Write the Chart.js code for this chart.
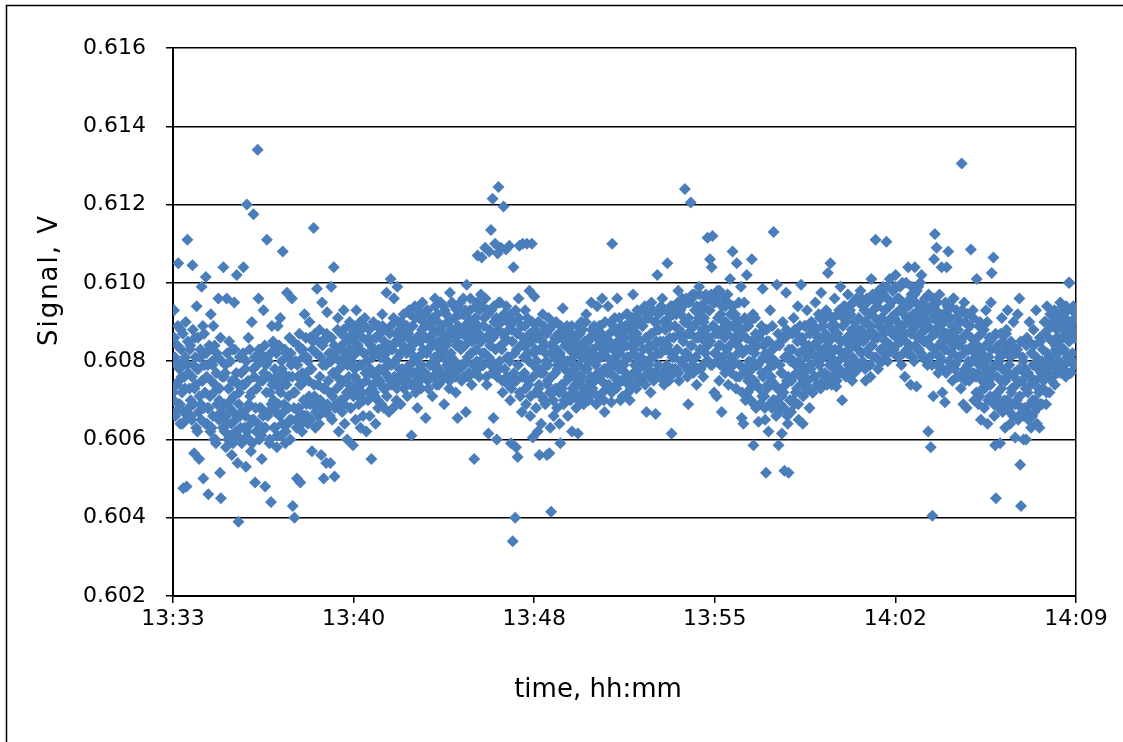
<!DOCTYPE html>
<html>
<head>
<meta charset="utf-8">
<script src="https://cdn.jsdelivr.net/npm/chart.js@4.4.1/dist/chart.umd.min.js"></script>
<style>
html,body{margin:0;padding:0;background:#fff;}
#wrap{width:1123px;height:742px;position:relative;}
</style>
</head>
<body>
<div id="wrap"><canvas id="c" width="1123" height="742"></canvas></div>
<script>
// x axis: seconds since midnight (13:33:36 .. 14:09:36), ticks every 7.2 min
const xTickValues = [48816, 49248, 49680, 50112, 50544, 50976];
const xTickLabels = ['13:33', '13:40', '13:48', '13:55', '14:02', '14:09'];
const yTickValues = [0.602, 0.604, 0.606, 0.608, 0.610, 0.612, 0.614, 0.616];
const yTickLabels = ['0.602', '0.604', '0.606', '0.608', '0.610', '0.612', '0.614', '0.616'];
const xTitle = 'time, hh:mm';
const yTitle = 'Signal, V';

// recording start and sample interval (seconds)
const startTime = 48816;
const sampleInterval = 1;

// signal readings in mV, one block per 4 minutes;
// "signalBlock" = even-second samples, "coreBlock" = odd-second samples
const signalBlock1 = [
 607.2,609.3,608.1,606.7,607.9,608.4,610.5,607.5,606.9,608.8,607.6,606.4,604.75,608.0,607.3,609.0,604.8,611.1,607.7,606.6,
 608.3,607.0,606.5,610.45,607.9,605.65,608.6,607.4,609.4,606.2,607.8,605.5,608.1,606.9,609.9,607.5,605.0,608.7,607.2,610.15,
 607.6,606.8,604.6,608.4,607.1,609.2,606.3,607.9,608.9,606.0,607.4,605.9,608.2,606.6,609.6,607.0,605.15,604.5,608.0,606.5,
 610.4,606.9,607.7,605.8,609.6,606.4,607.3,608.5,606.1,607.0,605.6,608.3,606.7,609.5,607.5,606.2,610.2,605.4,603.9,607.2,
 606.6,608.1,605.9,607.4,610.4,606.3,607.8,605.3,612.0,606.8,608.6,606.0,607.1,605.7,609.0,606.5,611.75,607.6,604.9,606.2,
 607.3,613.4,609.6,606.0,608.2,606.8,605.5,607.5,609.3,606.3,604.8,607.9,611.1,606.6,608.0,605.9,607.2,604.4,608.9,606.9
];
const coreBlock1 = [
 607.0,608.6,606.6,608.0,607.4,608.9,606.9,607.8,606.4,608.3,607.2,608.7,606.7,607.6,608.1,606.5,607.9,608.5,606.8,607.3,
 608.4,606.6,607.6,608.8,606.9,607.3,608.1,606.3,607.8,608.6,606.7,607.1,608.3,606.5,607.5,608.9,606.8,607.9,606.4,608.2,
 606.4,607.9,606.8,608.3,606.2,607.5,608.0,606.6,607.2,608.4,606.0,607.7,606.9,608.1,606.5,607.3,608.6,606.7,607.6,606.3,
 607.6,606.2,607.9,606.6,608.2,606.0,607.3,606.8,608.0,606.4,607.5,605.9,607.1,608.3,606.5,607.7,606.1,607.4,606.9,608.1,
 606.3,607.7,606.7,608.2,606.0,607.4,606.6,608.0,606.2,607.5,606.9,608.3,606.4,607.2,605.9,607.8,606.5,608.1,606.8,607.3,
 607.9,606.4,608.3,606.8,607.5,606.1,608.0,606.6,607.7,608.4,606.3,607.2,608.1,606.7,607.6,606.0,608.2,606.9,607.4,608.5
];
const signalBlock2 = [
 607.0,608.4,606.3,607.6,605.8,608.9,606.9,607.3,609.1,606.1,607.8,610.8,606.7,607.5,605.9,608.2,609.75,606.4,607.1,608.6,
 606.0,607.9,609.6,604.3,607.2,604.0,608.0,606.5,605.0,607.6,606.8,608.7,604.9,607.4,606.2,608.3,607.0,609.2,606.6,607.7,
 608.1,606.4,607.5,609.0,606.9,607.8,605.7,608.5,611.4,607.1,606.3,608.2,609.85,607.4,606.6,608.8,607.0,605.6,609.5,607.9,
 605.0,607.3,608.6,605.4,609.25,606.8,608.0,607.2,605.4,609.9,606.5,607.7,610.4,605.05,608.3,606.9,607.6,609.1,606.2,608.0,
 607.4,608.7,606.7,607.9,609.3,606.4,608.2,607.1,606.0,608.5,607.6,609.0,606.8,608.1,607.3,605.85,608.9,607.8,606.5,609.3,
 607.5,608.4,606.9,607.9,606.3,608.8,607.2,606.6,608.2,609.1,607.7,606.2,608.0,607.0,608.6,606.6,607.8,605.5,608.3,607.4
];
const coreBlock2 = [
 606.3,607.8,606.7,608.2,606.1,607.5,608.4,606.6,607.2,608.0,606.4,607.7,606.9,608.3,606.2,607.4,608.1,606.8,607.6,606.5,
 608.2,606.5,607.6,608.5,606.8,607.2,608.0,606.3,607.9,608.4,606.7,607.4,608.3,606.4,607.7,608.1,606.6,607.5,608.6,606.9,
 606.6,608.0,607.1,608.6,606.5,607.8,608.3,606.9,607.4,608.7,606.7,608.2,607.0,608.5,606.4,607.6,608.1,606.8,608.4,607.3,
 608.5,606.7,607.9,608.7,606.9,607.5,608.2,606.6,608.0,608.6,607.1,607.7,608.4,606.8,608.1,607.3,608.8,606.9,607.8,608.3,
 607.0,608.4,607.5,608.8,606.9,608.1,608.6,607.2,607.9,608.9,607.4,608.3,606.8,608.0,608.7,607.1,608.5,607.6,608.2,607.3,
 608.7,607.1,608.3,609.0,607.4,607.9,608.6,607.0,608.2,608.9,607.5,608.0,608.5,607.2,608.8,607.7,608.4,607.3,608.1,609.0
];
const signalBlock3 = [
 608.2,607.1,606.4,608.6,607.7,606.8,608.9,607.5,608.1,606.9,609.2,607.8,606.8,608.4,607.3,609.75,608.0,607.6,606.7,608.7,
 610.1,607.9,608.3,606.8,609.6,607.4,608.5,607.0,609.9,608.1,607.6,608.8,606.9,609.0,607.8,608.4,607.3,608.9,607.6,608.2,
 607.1,608.6,609.3,607.7,608.3,606.1,608.9,607.4,608.0,609.4,607.2,608.5,606.8,608.1,609.1,607.5,608.7,607.9,609.5,608.3,
 607.6,608.9,606.55,608.2,609.3,607.3,608.6,607.9,609.0,608.4,607.1,608.8,607.6,609.6,608.0,607.4,609.2,608.5,607.8,608.3,
 609.5,607.5,608.7,608.1,606.9,609.3,608.4,607.7,609.0,608.6,607.3,609.75,608.2,607.9,608.8,607.6,609.4,608.0,607.2,608.5,
 606.55,608.9,607.8,609.2,608.3,607.5,608.7,609.6,607.9,608.4,606.7,609.95,608.1,607.6,608.9,609.3,608.2,607.4,609.0,608.6
];
const coreBlock3 = [
 607.2,608.6,607.6,608.9,607.0,608.3,607.8,608.7,607.4,608.1,608.9,607.3,608.5,607.7,608.2,607.1,608.8,607.9,608.4,607.5,
 608.9,607.4,608.4,609.1,607.6,608.0,608.7,607.3,608.5,609.0,607.8,608.2,608.8,607.5,608.6,609.2,607.7,608.3,607.4,608.9,
 607.5,608.7,607.9,609.2,607.4,608.4,608.9,607.7,608.1,609.1,607.6,608.6,608.0,609.3,607.8,608.5,607.3,608.8,608.2,609.0,
 609.2,607.7,608.6,609.3,607.5,608.3,608.9,607.9,608.5,609.1,607.6,608.7,608.1,609.4,607.8,608.4,609.0,607.4,608.8,608.2,
 607.7,608.9,608.3,609.4,607.6,608.6,609.2,607.9,608.5,609.0,607.5,608.8,608.1,609.5,607.8,608.7,609.1,607.6,608.4,609.3,
 609.4,607.8,608.7,609.5,607.9,608.4,609.2,607.6,608.9,609.3,608.0,608.6,609.1,607.7,608.8,609.6,608.2,608.5,607.9,609.0
];
const signalBlock4 = [
 605.5,608.7,609.4,608.0,610.7,608.9,607.6,608.5,609.7,610.65,608.2,607.9,609.1,610.9,608.6,607.4,609.3,606.15,610.8,608.4,
 611.35,608.0,612.15,606.55,609.0,611.0,608.7,606.0,610.75,612.45,607.8,609.5,610.9,608.3,607.2,611.95,609.2,608.6,610.85,607.6,
 609.0,608.1,610.95,607.0,605.9,608.8,603.4,610.4,607.5,604.0,605.8,608.3,605.55,609.6,610.95,607.1,608.9,606.7,611.0,608.4,
 607.7,609.3,606.9,611.0,608.2,607.4,609.8,606.6,608.6,611.0,606.05,607.9,609.65,608.3,606.8,608.0,606.2,607.3,605.6,608.7,
 606.4,607.8,609.2,607.0,608.4,606.9,608.0,605.6,607.5,609.1,605.65,606.3,604.15,608.2,607.2,606.6,608.5,607.7,609.0,606.8,
 607.9,608.6,606.4,605.9,608.1,607.3,609.35,606.9,607.8,608.5,607.1,608.9,606.6,607.6,608.3,607.0,608.7,606.2,607.9,608.4
];
const coreBlock4 = [
 607.7,609.1,608.3,609.5,607.8,608.7,609.3,608.0,608.5,609.4,607.9,608.9,608.2,609.6,607.6,608.6,609.2,608.1,608.8,607.9,
 609.3,607.7,608.6,609.4,607.9,608.3,609.1,607.6,608.8,609.5,608.0,608.4,609.0,607.5,608.7,609.2,607.8,608.5,609.4,608.1,
 607.4,608.8,608.0,609.2,607.3,608.5,609.0,607.7,608.2,609.3,607.5,608.7,607.9,609.1,607.2,608.4,608.9,607.6,608.6,608.1,
 608.9,607.3,608.4,609.1,607.5,608.0,608.7,607.1,608.5,609.0,607.6,608.2,608.8,607.2,608.6,607.8,609.0,607.4,608.3,607.7,
 607.1,608.5,607.7,608.9,607.0,608.2,608.7,607.4,607.9,608.8,607.2,608.4,607.6,608.9,607.0,608.1,608.6,607.3,608.3,607.8,
 608.7,607.2,608.2,608.9,607.4,607.9,608.6,607.0,608.4,608.8,607.5,608.0,608.5,607.1,608.3,607.7,608.9,607.3,608.1,607.6
];
const signalBlock5 = [
 608.2,607.4,606.8,608.7,606.15,607.9,608.4,607.1,609.0,607.6,608.1,606.9,608.5,607.3,609.2,607.8,608.0,607.0,608.6,607.5,
 609.5,608.3,607.2,608.8,607.6,608.0,606.9,609.4,607.7,608.4,607.1,608.9,607.5,609.6,608.2,607.0,606.7,608.6,607.8,608.1,
 609.4,607.4,608.5,607.9,606.95,611.0,608.3,607.6,609.1,608.0,607.3,609.6,608.7,607.8,608.2,607.0,608.9,607.5,608.4,607.9,
 608.6,607.7,609.2,608.1,607.2,608.8,607.0,609.0,608.4,607.6,609.7,608.2,607.9,608.7,607.3,609.3,608.5,607.8,609.0,608.1,
 607.5,608.9,608.3,607.6,609.4,608.0,606.7,608.6,609.1,607.9,608.4,607.2,609.5,608.7,608.1,607.7,609.0,606.65,608.5,610.2,
 607.9,608.8,609.3,608.2,607.6,609.6,608.5,607.4,609.0,608.3,607.8,610.5,608.9,607.5,608.6,609.4,606.15,608.1,609.2,607.7
];
const coreBlock5 = [
 607.2,608.6,607.7,608.9,607.0,608.3,608.7,607.5,608.1,608.8,607.3,608.4,607.8,609.0,607.1,608.2,608.5,607.4,608.0,607.6,
 608.8,607.3,608.2,608.9,607.5,607.9,608.6,607.1,608.4,608.9,607.6,608.1,608.7,607.2,608.5,607.8,609.0,607.4,608.3,607.7,
 607.3,608.7,607.8,609.0,607.2,608.4,608.9,607.6,608.1,608.8,607.4,608.5,607.9,609.1,607.5,608.3,608.7,607.1,608.6,608.0,
 608.9,607.5,608.4,609.2,607.4,608.1,608.8,607.3,608.6,609.1,607.7,608.3,608.9,607.4,608.7,608.0,609.2,607.6,608.5,607.9,
 607.5,608.9,608.0,609.3,607.4,608.6,609.1,607.8,608.3,609.2,607.6,608.7,608.1,609.3,607.5,608.4,609.0,607.7,608.8,608.2,
 609.2,607.6,608.5,609.4,607.7,608.3,609.0,607.5,608.8,609.3,607.9,608.4,609.1,607.6,608.9,608.2,609.4,607.8,608.6,608.1
];
const signalBlock6 = [
 608.9,607.8,609.4,608.3,609.8,607.5,608.7,609.2,608.0,609.6,608.5,607.9,612.4,609.0,608.2,607.6,606.9,609.5,608.7,612.05,
 608.4,609.7,607.7,608.9,609.3,608.1,607.4,609.0,608.6,609.9,608.3,607.8,609.4,608.8,607.6,609.1,608.5,609.7,608.0,611.15,
 608.6,609.3,610.6,607.9,610.4,611.2,608.9,607.2,609.5,608.2,607.1,609.8,608.7,607.5,608.4,609.2,606.7,608.0,609.6,608.8,
 607.7,609.0,608.3,609.7,607.4,608.9,610.1,608.1,609.4,610.8,607.9,608.6,609.2,607.3,610.5,608.4,609.0,607.6,608.8,609.9,
 606.55,608.2,606.4,609.5,607.8,608.6,610.2,607.2,608.9,607.6,608.3,607.0,610.6,608.0,605.85,607.5,609.1,606.8,607.9,608.4,
 606.45,607.3,608.7,606.9,607.7,609.85,608.1,607.1,606.5,605.15,608.5,607.4,606.2,608.0,609.3,607.6,606.8,608.3,611.3,607.0
];
const coreBlock6 = [
 607.8,609.2,608.3,609.5,607.7,608.8,609.3,608.0,608.6,609.4,607.9,609.0,608.2,609.6,607.8,608.7,609.1,608.1,608.9,608.4,
 609.6,607.9,608.9,609.7,608.1,608.6,609.4,607.8,609.1,609.7,608.3,608.7,609.3,607.9,609.0,609.5,608.2,608.8,609.6,608.4,
 608.0,609.3,608.5,609.7,607.9,608.9,609.5,608.2,608.7,609.6,608.0,609.1,608.4,609.8,607.9,608.8,609.4,608.1,609.0,608.6,
 609.4,607.8,608.7,609.5,607.9,608.4,609.2,607.7,608.9,609.4,608.0,608.5,609.1,607.6,608.8,608.2,609.5,607.9,608.6,608.3,
 607.2,608.8,607.7,609.1,607.0,608.3,608.9,607.5,608.0,609.0,607.3,608.5,607.8,609.2,606.9,608.2,608.7,607.4,608.4,607.9,
 608.6,606.9,608.0,608.9,607.1,607.6,608.4,606.8,608.2,608.8,607.3,607.8,608.5,606.9,608.1,607.5,608.9,607.0,607.9,607.4
];
const signalBlock7 = [
 608.0,606.6,609.95,607.3,605.85,608.4,606.9,607.7,606.15,609.0,607.2,605.2,608.6,609.75,607.5,606.4,605.15,608.1,607.0,606.7,
 608.3,607.6,609.1,606.9,607.9,608.7,607.3,609.4,606.5,608.0,607.6,609.95,608.5,606.4,607.8,608.9,607.2,608.2,609.3,607.5,
 608.4,606.8,607.9,609.0,608.2,607.2,608.8,607.6,609.5,608.0,607.4,608.6,609.2,607.9,608.3,609.75,607.7,608.9,608.1,607.5,
 608.7,609.3,607.4,610.25,608.5,607.9,610.5,608.2,609.1,607.6,608.8,609.6,608.0,607.35,608.6,609.2,608.3,607.8,609.9,608.5,
 607.0,608.9,609.4,608.1,607.7,609.0,608.6,609.7,608.3,607.9,609.2,608.7,607.5,609.5,608.4,609.0,608.0,609.6,608.8,607.8,
 609.1,608.5,609.8,608.2,607.9,609.4,608.7,609.0,607.5,608.6,609.5,608.3,609.2,608.9,607.6,610.1,608.4,609.3,608.7,609.6
];
const coreBlock7 = [
 606.9,608.4,607.3,608.7,606.7,607.9,608.5,607.1,607.7,608.6,606.8,608.1,607.4,608.8,606.6,607.6,608.3,607.0,608.0,607.5,
 608.7,607.0,608.0,608.8,607.2,607.7,608.5,606.9,608.2,608.9,607.4,607.9,608.6,607.1,608.3,607.6,608.9,607.3,608.1,607.8,
 607.3,608.7,607.8,609.0,607.2,608.4,608.9,607.6,608.1,608.8,607.4,608.5,607.9,609.1,607.3,608.2,608.6,607.5,608.3,607.7,
 609.1,607.5,608.4,609.2,607.6,608.1,608.9,607.4,608.6,609.1,607.8,608.3,608.9,607.5,608.7,608.0,609.3,607.7,608.5,608.2,
 607.7,609.1,608.2,609.4,607.6,608.6,609.2,607.9,608.4,609.3,607.8,608.8,608.1,609.5,607.7,608.5,609.0,607.9,608.7,608.3,
 609.5,607.9,608.8,609.6,608.0,608.5,609.3,607.8,609.0,609.6,608.2,608.7,609.2,607.9,608.9,608.4,609.7,608.1,608.6,609.1
];
const signalBlock8 = [
 611.1,608.6,609.4,607.8,608.9,609.7,608.3,609.1,608.0,609.9,608.7,609.3,608.5,611.05,609.6,608.2,609.0,610.1,608.4,609.5,
 608.8,609.8,608.3,609.2,610.2,608.6,609.0,608.1,609.6,608.7,609.3,607.9,610.0,608.9,609.4,607.6,608.5,609.1,608.2,610.4,
 609.0,608.4,607.4,609.7,608.8,609.2,608.0,610.4,609.5,607.35,608.6,609.9,608.3,609.1,608.7,610.2,608.1,609.4,608.9,609.6,
 608.5,609.0,607.9,606.2,609.3,608.4,605.8,608.8,604.05,607.1,610.6,611.25,608.2,610.9,609.5,607.7,608.9,609.2,608.0,610.4,
 607.2,608.6,609.0,606.95,608.3,610.4,609.4,610.8,607.8,608.7,609.1,608.2,607.5,609.6,608.4,607.9,608.8,609.3,607.6,608.5,
 608.1,609.0,607.3,613.05,608.6,606.9,609.5,607.8,608.3,606.8,609.2,608.0,607.5,608.9,610.85,607.7,608.4,609.1,607.0,608.2
];
const coreBlock8 = [
 608.1,609.5,608.6,609.8,608.0,609.0,609.6,608.3,608.8,609.7,608.2,609.3,608.5,609.9,608.0,608.9,609.4,608.4,609.1,608.7,
 609.8,608.2,609.1,609.9,608.4,608.8,609.6,608.1,609.3,609.9,608.5,608.9,609.5,608.2,609.2,608.7,610.0,608.3,609.0,609.4,
 608.2,609.6,608.7,609.9,608.1,609.1,609.7,608.4,608.9,609.8,608.3,609.3,608.6,610.0,608.2,609.0,609.5,608.5,609.2,608.8,
 609.6,608.0,608.9,609.7,608.1,608.6,609.4,607.9,609.1,609.6,608.3,608.7,609.3,607.9,609.0,608.4,609.7,608.1,608.8,608.5,
 607.8,609.2,608.3,609.5,607.7,608.7,609.3,608.0,608.5,609.4,607.9,608.9,608.2,609.6,607.8,608.6,609.1,608.0,608.8,608.4,
 609.2,607.6,608.5,609.3,607.7,608.2,609.0,607.5,608.7,609.2,607.9,608.3,608.9,607.6,608.6,608.0,609.3,607.7,608.4,608.1
];
const signalBlock9 = [
 607.6,610.1,608.4,606.9,607.9,609.0,606.5,608.2,607.3,608.8,606.8,607.7,609.3,608.0,606.4,607.5,608.6,607.1,609.5,610.25,
 607.8,610.65,606.6,605.85,604.5,608.3,607.2,606.9,608.0,605.9,607.5,609.1,606.7,608.4,607.0,606.3,608.7,607.6,609.3,606.8,
 607.9,606.4,608.5,607.3,606.9,609.0,607.7,606.05,608.2,607.0,609.2,606.6,609.6,605.35,604.3,607.5,608.1,606.0,606.8,607.8,
 606.0,608.6,607.2,606.5,609.0,607.6,606.3,608.2,607.0,608.8,606.7,607.9,609.3,606.4,608.0,607.3,606.3,608.5,607.7,606.9,
 608.3,607.5,609.0,608.0,606.9,609.4,607.8,608.6,607.2,609.2,608.1,607.6,608.9,607.9,609.3,608.4,607.7,608.8,608.2,609.0,
 608.5,609.5,607.8,608.9,608.3,609.2,607.9,608.7,609.4,608.1,608.6,610.0,610.0,607.7,608.9,609.3,608.0,608.6,607.9,609.1
];
const coreBlock9 = [
 607.2,608.6,607.7,608.9,607.1,608.2,608.7,607.5,608.0,608.8,607.3,608.4,607.8,609.0,607.0,608.1,608.5,607.4,608.3,607.6,
 608.6,606.9,607.9,608.7,607.1,607.6,608.4,606.8,608.1,608.7,607.3,607.8,608.5,606.9,608.2,607.5,608.8,607.0,607.7,608.3,
 606.7,608.1,607.2,608.4,606.6,607.6,608.2,606.9,607.4,608.3,606.5,607.8,607.1,608.5,606.8,607.5,608.0,606.6,607.7,607.3,
 608.4,606.7,607.7,608.5,606.9,607.4,608.2,606.6,607.9,608.4,607.0,607.5,608.1,606.8,607.8,607.2,608.6,606.9,607.6,608.0,
 607.3,608.7,607.8,609.0,607.2,608.2,608.8,607.6,608.1,608.9,607.5,608.5,607.9,609.1,607.4,608.3,608.6,607.7,608.4,608.0,
 609.2,607.7,608.6,609.4,607.8,608.3,609.1,607.6,608.9,609.3,608.0,608.5,609.0,607.7,608.8,608.2,609.4,607.9,608.6,609.1
];

const evenBlocks = [signalBlock1, signalBlock2, signalBlock3, signalBlock4, signalBlock5,
                    signalBlock6, signalBlock7, signalBlock8, signalBlock9];
const oddBlocks = [coreBlock1, coreBlock2, coreBlock3, coreBlock4, coreBlock5,
                   coreBlock6, coreBlock7, coreBlock8, coreBlock9];
const points = [];
let n = 0;
evenBlocks.forEach((block, k) => {
  const other = oddBlocks[k];
  for (let i = 0; i < block.length; i++) {
    points.push({ x: startTime + (n + 0.5) * sampleInterval, y: block[i] / 1000 }); n++;
    if (i < other.length) {
      points.push({ x: startTime + (n + 0.5) * sampleInterval, y: other[i] / 1000 }); n++;
    }
  }
});

const FONT = "'DejaVu Sans', 'Liberation Sans', sans-serif";

const frameAndTitles = {
  id: 'frameAndTitles',
  beforeDraw(chart) {
    const ctx = chart.ctx;
    ctx.save();
    ctx.fillStyle = '#fff';
    ctx.fillRect(0, 0, chart.width, chart.height);
    ctx.restore();
  },
  afterDraw(chart) {
    const ctx = chart.ctx;
    ctx.save();
    ctx.strokeStyle = '#000';
    ctx.lineWidth = 1.5;
    ctx.beginPath();
    ctx.moveTo(6.5, 760);
    ctx.lineTo(6.5, 5.5);
    ctx.lineTo(1140, 5.5);
    ctx.stroke();
    ctx.fillStyle = '#000';
    ctx.font = '26px ' + FONT;
    ctx.textAlign = 'center';
    ctx.textBaseline = 'middle';
    ctx.fillText(xTitle, 598, 690);
    ctx.translate(50, 280);
    ctx.rotate(-Math.PI / 2);
    if ('letterSpacing' in ctx) ctx.letterSpacing = '2px';
    ctx.fillText(yTitle, 0, 0);
    ctx.restore();
  }
};

new Chart(document.getElementById('c'), {
  type: 'scatter',
  data: {
    datasets: [{
      data: points,
      pointStyle: 'rectRot',
      pointRadius: 6,
      pointHoverRadius: 6,
      backgroundColor: '#4A7EBB',
      borderColor: '#4A7EBB',
      borderWidth: 0
    }]
  },
  options: {
    responsive: false,
    animation: false,
    devicePixelRatio: 1,
    events: [],
    layout: { padding: { left: 0, top: 48, right: 47, bottom: 0 } },
    plugins: { legend: { display: false }, tooltip: { enabled: false } },
    scales: {
      x: {
        type: 'linear',
        min: xTickValues[0],
        max: xTickValues[xTickValues.length - 1],
        afterBuildTicks: s => { s.ticks = xTickValues.map(v => ({ value: v })); },
        afterFit: s => { s.height = 146; },
        ticks: {
          callback: (v, i) => xTickLabels[i],
          font: { family: FONT, size: 22 },
          color: '#000',
          padding: 3,
          maxRotation: 0,
          autoSkip: false
        },
        grid: {
          color: c => (c.index === xTickValues.length - 1 ? '#000' : 'rgba(0,0,0,0)'),
          tickColor: '#000',
          tickLength: 7,
          lineWidth: 1.5
        },
        border: { color: '#000', width: 2 }
      },
      y: {
        min: yTickValues[0],
        max: yTickValues[yTickValues.length - 1],
        afterBuildTicks: s => { s.ticks = yTickValues.map(v => ({ value: v })); },
        afterFit: s => { s.width = 173; },
        ticks: {
          callback: (v, i) => yTickLabels[i],
          font: { family: FONT, size: 22 },
          color: '#000',
          padding: 20
        },
        grid: { color: '#000', tickColor: '#000', tickLength: 7, lineWidth: 1.5 },
        border: { color: '#000', width: 2 }
      }
    }
  },
  plugins: [frameAndTitles]
});
</script>
</body>
</html>
